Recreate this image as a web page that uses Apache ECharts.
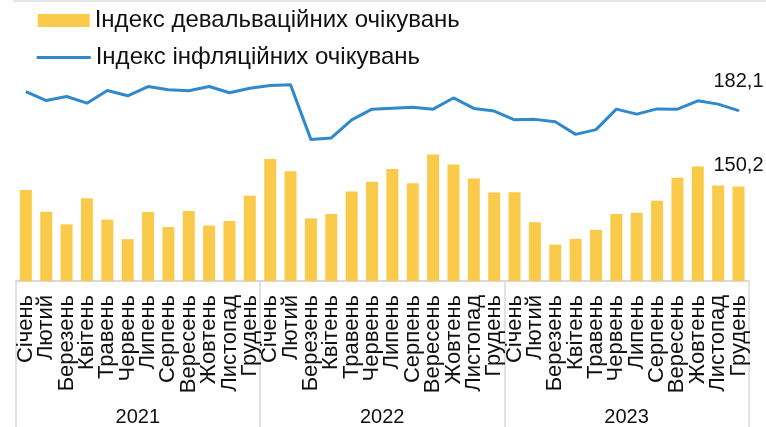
<!DOCTYPE html>
<html>
<head>
<meta charset="utf-8">
<script src="https://cdn.jsdelivr.net/npm/echarts@6/dist/echarts.min.js"></script>
<style>
html,body{margin:0;padding:0;background:#fff;}
#chart{width:766px;height:427px;}
</style>
</head>
<body>
<div id="chart"></div>
<script>
var months = ['Січень','Лютий','Березень','Квітень','Травень','Червень','Липень','Серпень','Вересень','Жовтень','Листопад','Грудень'];
var years = ['2021','2022','2023'];
var devaluationIndex = [148.7,139.6,134.3,145.3,136.3,128.1,139.5,133.2,139.9,133.8,135.7,146.3,
  161.8,156.6,136.8,138.6,148.1,152.2,157.6,151.6,163.6,159.4,153.6,147.7,
  147.8,135.2,125.8,128.2,132.0,138.6,139.2,144.2,153.9,158.6,150.6,150.2];
var inflationIndex = [190.1,186.3,188.0,185.2,190.5,188.3,192.2,190.8,190.4,192.2,189.6,191.5,
  192.6,192.9,169.9,170.6,178.2,182.7,183.1,183.5,182.7,187.4,183.0,181.9,
  178.2,178.4,177.4,172.1,174.1,182.7,180.6,182.8,182.7,186.2,184.8,182.1];
var seriesNames = ['Індекс девальваційних очікувань','Індекс інфляційних очікувань'];

var categories = [];
years.forEach(function(y){ months.forEach(function(m){ categories.push(y + '|' + m); }); });

var FONT = '"Liberation Sans", Arial, sans-serif';
var BAR_COLOR = '#FACB4A';
var LINE_COLOR = '#3089CB';
function fmt(p){ return String(p.value).replace('.', ','); }
var last = categories.length - 1;
function withLastLabel(arr, dist, extra){
  return arr.map(function(v, i){
    if (i !== last) return v;
    var item = {value: v, label: {show: true, position: 'top', distance: dist, formatter: fmt,
      fontSize: 20, color: '#111', fontFamily: FONT}};
    if (extra) { for (var k in extra) item[k] = extra[k]; }
    return item;
  });
}

var chart = echarts.init(document.getElementById('chart'), null, {renderer: 'canvas'});
chart.setOption({
  animation: false,
  backgroundColor: '#fff',
  graphic: [{type: 'rect', left: 13, top: 0, shape: {width: 753, height: 2}, style: {fill: '#e6e6e6'}}],
  legend: [
    {data: [{name: seriesNames[0], icon: 'rect'}], left: 37.7, top: 8.5, padding: 0, orient: 'vertical',
     itemWidth: 52, itemHeight: 13,
     textStyle: {fontSize: 24, color: '#111', fontFamily: FONT}},
    {data: [{name: seriesNames[1], icon: 'rect', itemStyle: {color: LINE_COLOR}}], left: 36.7, top: 45.5, padding: 0, orient: 'vertical',
     itemWidth: 54, itemHeight: 3,
     textStyle: {fontSize: 24, color: '#111', fontFamily: FONT}}
  ],
  grid: {left: 15.7, right: 17.3, top: 62, bottom: 145, containLabel: false},
  xAxis: [
    {type: 'category', data: categories, position: 'bottom',
     axisLine: {show: true, lineStyle: {color: '#d9d9d9', width: 2}},
     axisTick: {show: false},
     axisLabel: {interval: 0, rotate: 90, margin: 14, fontSize: 22, color: '#111', fontFamily: FONT,
       formatter: function(v){ return v.split('|')[1]; }}},
    {type: 'category', data: years, position: 'bottom',
     axisLine: {show: false},
     axisTick: {show: true, length: 146, interval: 0, lineStyle: {color: '#d9d9d9', width: 1.5}},
     axisLabel: {interval: 0, margin: 126, fontSize: 20, color: '#111', fontFamily: FONT}}
  ],
  yAxis: {type: 'value', min: 110.5, max: 202.5, show: false, splitLine: {show: false}},
  series: [
    {name: seriesNames[0], type: 'bar', barWidth: 12, xAxisIndex: 0,
     itemStyle: {color: BAR_COLOR},
     data: withLastLabel(devaluationIndex, 11)},
    {name: seriesNames[1], type: 'line', xAxisIndex: 0, symbol: 'none', showSymbol: true,
     lineStyle: {color: LINE_COLOR, width: 3}, itemStyle: {color: LINE_COLOR},
     data: withLastLabel(inflationIndex, 18, {symbol: 'circle', symbolSize: 2})}
  ]
});
</script>
</body>
</html>
